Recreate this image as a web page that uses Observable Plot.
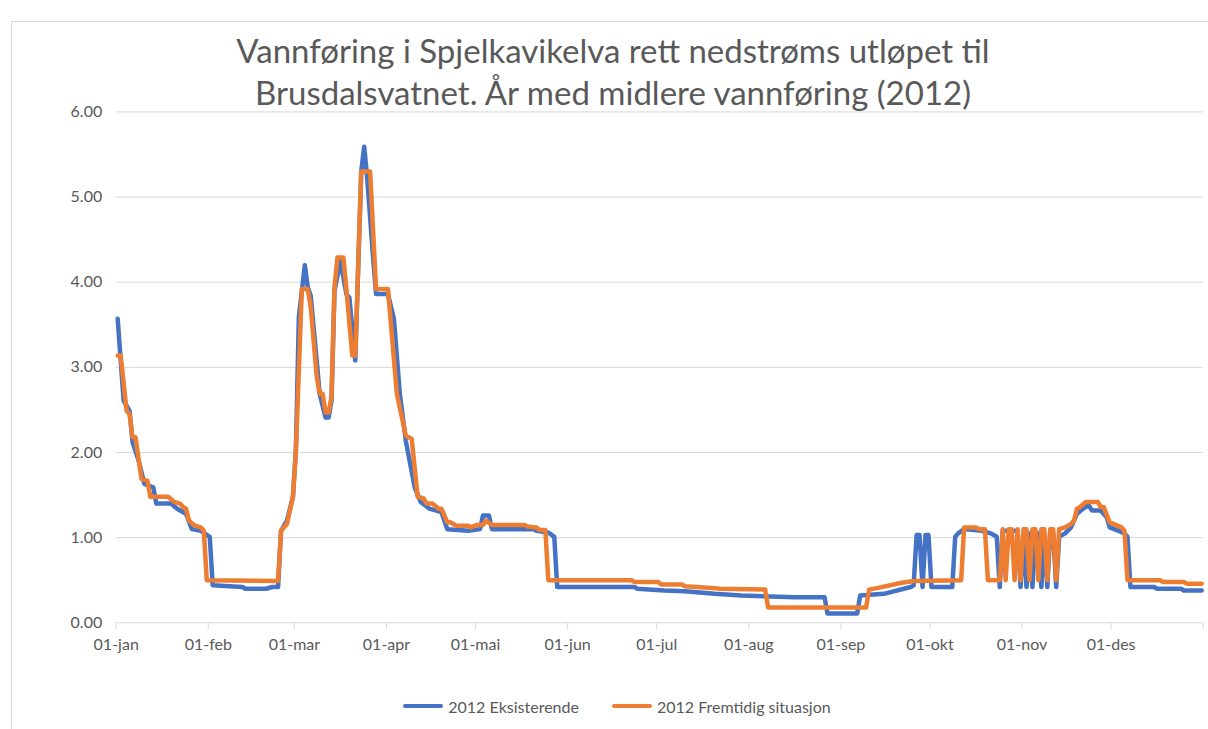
<!DOCTYPE html>
<html>
<head>
<meta charset="utf-8">
<script src="https://cdn.jsdelivr.net/npm/d3@7"></script>
<script src="https://cdn.jsdelivr.net/npm/@observablehq/plot@0.6"></script>
<style>
  html, body { margin: 0; padding: 0; background: #fff; }
  #wrap { position: relative; width: 1208px; height: 729px; overflow: hidden; font-family: Lato, sans-serif; color: #595959; }
  #frame { position: absolute; left: 11px; top: 21px; width: 1300px; height: 800px; border: 1px solid #d9d9d9; box-sizing: border-box; }
  #chart { position: absolute; left: 0; top: 0; }
  #title { position: absolute; left: 0; top: 29px; width: 1208px; padding-left: 18px; box-sizing: border-box; text-align: center; font-size: 33px; line-height: 42px; z-index: 2; }
  #legend { position: absolute; left: 0; top: 694px; width: 1208px; padding-left: 26px; box-sizing: border-box; display: flex; justify-content: center; align-items: center; height: 24px; font-size: 16px; z-index: 2; }
  .item { display: flex; align-items: center; }
  .item + .item { margin-left: 33px; }
  .swatch { width: 40px; height: 4px; border-radius: 2px; margin-right: 5px; }
</style>
</head>
<body>
<div id="wrap">
  <div id="frame"></div>
  <div id="chart"></div>
  <div id="title"></div>
  <div id="legend"></div>
</div>
<script>
// ---- Data ----
const titleLines = [
  "Vannføring i Spjelkavikelva rett nedstrøms utløpet til",
  "Brusdalsvatnet. År med midlere vannføring (2012)"
];
const seriesNames = ["2012 Eksisterende", "2012 Fremtidig situasjon"];
const seriesColors = ["#4472C4", "#ED7D31"];
const monthLabels = ["01-jan","01-feb","01-mar","01-apr","01-mai","01-jun","01-jul","01-aug","01-sep","01-okt","01-nov","01-des"];
const yTicks = [0, 1, 2, 3, 4, 5, 6];

// [day of year (0 = 1 Jan 2012), flow]
const eksisterende = [
  [0,3.57],[2,2.61],[4,2.49],[5,2.12],[7,1.91],[9,1.63],[12,1.59],[13,1.40],[18,1.40],[20,1.34],
  [23,1.28],[25,1.10],[28,1.08],[31,1.01],[32,0.44],[42,0.42],[43,0.40],[50,0.40],[52,0.42],[54,0.42],
  [55,1.08],[57,1.20],[59,1.48],[60,2.02],[61,3.59],[63,4.20],[64,3.94],[65,3.84],[67,3.08],[68,2.69],
  [70,2.41],[71,2.41],[72,2.61],[73,3.90],[75,4.25],[77,3.86],[78,3.82],[80,3.08],[82,5.30],[83,5.59],
  [84,5.23],[86,4.29],[87,3.86],[91,3.86],[93,3.57],[95,2.69],[97,2.14],[100,1.59],[102,1.42],[105,1.34],
  [109,1.30],[111,1.10],[118,1.08],[122,1.10],[123,1.26],[125,1.26],[126,1.10],[140,1.10],[141,1.08],[145,1.06],
  [147,1.01],[148,0.42],[174,0.42],[175,0.40],[184,0.38],[191,0.37],[201,0.34],[210,0.32],[228,0.30],[238,0.30],
  [239,0.11],[249,0.11],[250,0.32],[258,0.34],[267,0.42],[268,0.44],[269,1.03],[270,1.03],[271,0.42],[272,1.03],
  [273,1.03],[274,0.42],[281,0.42],[282,1.01],[283,1.05],[285,1.10],[291,1.08],[294,1.05],[296,1.01],[297,0.42],
  [298,1.08],[303,1.08],[304,0.42],[305,1.05],[306,0.42],[307,1.05],[308,0.42],[309,1.05],[310,1.05],[311,0.42],
  [312,1.05],[313,0.42],[314,1.05],[315,1.05],[316,0.42],[317,1.01],[319,1.05],[321,1.12],[323,1.28],[325,1.34],
  [327,1.38],[328,1.32],[331,1.32],[333,1.24],[334,1.12],[337,1.08],[339,1.05],[340,1.01],[341,0.42],[349,0.42],
  [350,0.40],[358,0.40],[359,0.38],[365,0.38]
];
const fremtidig = [
  [0,3.14],[1,3.14],[3,2.49],[4,2.45],[5,2.18],[6,2.18],[8,1.69],[10,1.67],[11,1.48],[17,1.48],
  [19,1.42],[21,1.40],[22,1.36],[23,1.34],[24,1.20],[26,1.14],[28,1.12],[29,1.08],[30,0.50],[54,0.49],
  [55,1.08],[57,1.16],[59,1.48],[60,2.02],[62,3.92],[64,3.92],[65,3.71],[67,2.90],[68,2.69],[69,2.69],
  [70,2.47],[71,2.47],[72,2.65],[73,3.94],[74,4.29],[76,4.29],[77,3.92],[79,3.14],[80,3.14],[82,5.30],
  [85,5.30],[87,3.92],[91,3.92],[94,2.69],[97,2.20],[99,2.16],[101,1.48],[103,1.46],[104,1.40],[106,1.40],
  [108,1.34],[109,1.34],[111,1.18],[112,1.18],[114,1.14],[118,1.14],[119,1.12],[121,1.15],[123,1.15],[124,1.20],
  [126,1.15],[137,1.15],[138,1.13],[141,1.12],[142,1.09],[144,1.09],[145,0.50],[173,0.50],[174,0.48],[182,0.48],
  [183,0.45],[190,0.45],[191,0.43],[200,0.41],[203,0.40],[218,0.39],[219,0.18],[252,0.18],[253,0.39],[256,0.41],
  [264,0.47],[268,0.49],[284,0.50],[285,1.12],[289,1.12],[290,1.10],[292,1.10],[293,0.50],[297,0.50],[298,1.10],
  [299,0.50],[300,1.10],[301,1.10],[302,0.50],[303,1.10],[304,0.50],[305,1.10],[306,1.10],[307,0.50],[308,1.10],
  [309,1.10],[310,0.50],[311,1.10],[312,1.10],[313,0.50],[314,1.10],[315,1.10],[316,0.50],[317,1.10],[319,1.12],
  [321,1.16],[322,1.20],[323,1.34],[324,1.36],[326,1.42],[330,1.42],[331,1.36],[332,1.36],[334,1.18],[336,1.15],
  [338,1.12],[339,1.08],[340,0.50],[351,0.50],[352,0.48],[359,0.48],[360,0.46],[365,0.46]
];

// ---- Build ----
const toRows = (arr, name) => arr.map(([d, v]) => ({date: new Date(Date.UTC(2012, 0, 1 + d, 12)), v, name}));
const rowsA = toRows(eksisterende, seriesNames[0]);
const rowsB = toRows(fremtidig, seriesNames[1]);
const start = new Date(Date.UTC(2012, 0, 1));
const end = new Date(Date.UTC(2013, 0, 1));
const monthTicks = d3.utcMonth.range(start, new Date(Date.UTC(2013, 0, 2)));

const plot = Plot.plot({
  width: 1208,
  height: 680,
  marginLeft: 115.7,
  marginRight: 5.3,
  marginTop: 111.4,
  marginBottom: 57.7,
  style: {fontFamily: "Lato, sans-serif", fontSize: "16px", color: "#595959", background: "transparent"},
  x: {type: "utc", domain: [start, end]},
  y: {domain: [0, 6]},
  marks: [
    Plot.gridY(yTicks, {stroke: "#d9d9d9", strokeOpacity: 1, strokeWidth: 1}),
    Plot.axisY(yTicks, {tickSize: 0, tickPadding: 14, tickFormat: d => d.toFixed(2), label: null}),
    Plot.axisX(monthTicks, {
      tickSize: 7, tickPadding: 9, stroke: "#d9d9d9", strokeOpacity: 1, label: null,
      tickFormat: d => d.getUTCFullYear() === 2012 ? monthLabels[d.getUTCMonth()] : ""
    }),
    Plot.line(rowsA, {x: "date", y: "v", stroke: seriesColors[0], strokeWidth: 4.5, strokeLinejoin: "round", strokeLinecap: "round"}),
    Plot.line(rowsB, {x: "date", y: "v", stroke: seriesColors[1], strokeWidth: 4.5, strokeLinejoin: "round", strokeLinecap: "round"})
  ]
});
document.getElementById("chart").appendChild(plot);

const title = document.getElementById("title");
titleLines.forEach(t => { const d = document.createElement("div"); d.textContent = t; title.appendChild(d); });

const legend = document.getElementById("legend");
seriesNames.forEach((n, i) => {
  const item = document.createElement("div");
  item.className = "item";
  const sw = document.createElement("span");
  sw.className = "swatch";
  sw.style.background = seriesColors[i];
  const tx = document.createElement("span");
  tx.textContent = n;
  item.appendChild(sw); item.appendChild(tx);
  legend.appendChild(item);
});
</script>
</body>
</html>
